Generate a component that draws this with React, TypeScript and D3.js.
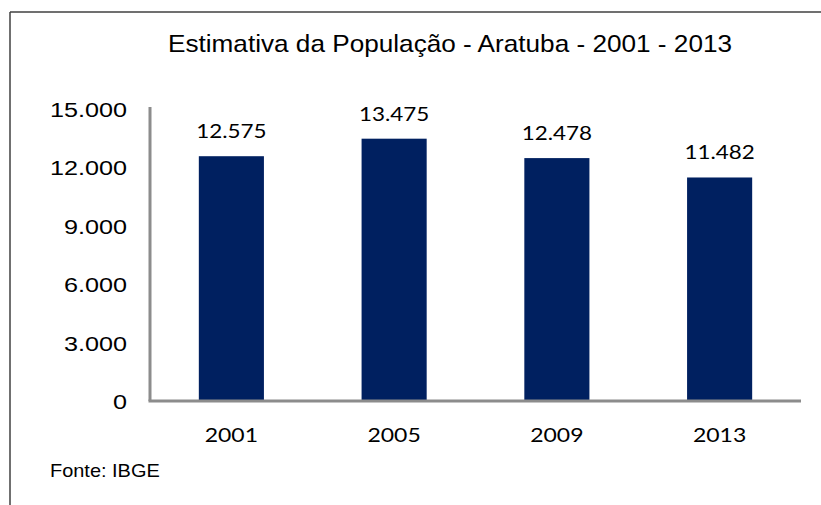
import React from "react";
import * as d3 from "d3";

const years = ["2001", "2005", "2009", "2013"];
const population = [12575, 13475, 12478, 11482];
const yTicks = [0, 3000, 6000, 9000, 12000, 15000];

const W = 821;
const H = 505;
const plot = { left: 150, right: 801, top: 109, bottom: 401 };

const fmt = (v: number) => d3.format(",")(v).replace(/,/g, ".");

const arial = "'Liberation Sans', Arial, sans-serif";
const calibri = "Lato, 'Open Sans', sans-serif";

// the source picture is stretched sideways, so texts get a horizontal scale
const Label = ({ x, y, sx, anchor, size, family, children }: any) => (
  <text
    transform={`translate(${x},${y}) scale(${sx},1)`}
    textAnchor={anchor}
    fontSize={size}
    fontFamily={family}
    fill="#000"
  >
    {children}
  </text>
);

const App = () => {
  const x = d3.scaleBand<string>()
    .domain(years)
    .range([plot.left, plot.right])
    .paddingInner(0.6)
    .paddingOuter(0.3);

  const y = d3.scaleLinear()
    .domain([0, 15000])
    .range([plot.bottom, plot.top]);

  return (
    <svg
      width={W}
      height={H}
      style={{ position: "absolute", left: 0, top: 0, background: "#fff" }}
    >
      <line x1={10} y1={12} x2={W} y2={12} stroke="#404040" strokeWidth={1.5} />
      <line x1={10} y1={12} x2={10} y2={H} stroke="#404040" strokeWidth={1.5} />

      <Label x={450} y={52} sx={1.09} anchor="middle" size={24} family={arial}>
        Estimativa da População - Aratuba - 2001 - 2013
      </Label>

      {yTicks.map((t) => (
        <Label key={t} x={127} y={y(t) + 8} sx={1.2} anchor="end" size={21} family={arial}>
          {fmt(t)}
        </Label>
      ))}

      {years.map((yr, i) => (
        <rect
          key={yr}
          x={x(yr)}
          y={y(population[i])}
          width={x.bandwidth()}
          height={y(0) - y(population[i])}
          fill="#002060"
        />
      ))}

      {years.map((yr, i) => (
        <Label
          key={yr}
          x={(x(yr) as number) + x.bandwidth() / 2}
          y={y(population[i]) - 18}
          sx={1.18}
          anchor="middle"
          size={19}
          family={calibri}
        >
          {fmt(population[i])}
        </Label>
      ))}

      <line x1={plot.left} y1={plot.top - 2} x2={plot.left} y2={plot.bottom} stroke="#8c8c8c" strokeWidth={3} />
      <line x1={plot.left - 1.5} y1={plot.bottom} x2={plot.right} y2={plot.bottom} stroke="#8c8c8c" strokeWidth={3} />

      {years.map((yr) => (
        <Label
          key={yr}
          x={(x(yr) as number) + x.bandwidth() / 2}
          y={442}
          sx={1.15}
          anchor="middle"
          size={20}
          family={calibri}
        >
          {yr}
        </Label>
      ))}

      <Label x={50} y={477} sx={1.05} anchor="start" size={19} family={arial}>
        Fonte: IBGE
      </Label>
    </svg>
  );
};

export default App;
